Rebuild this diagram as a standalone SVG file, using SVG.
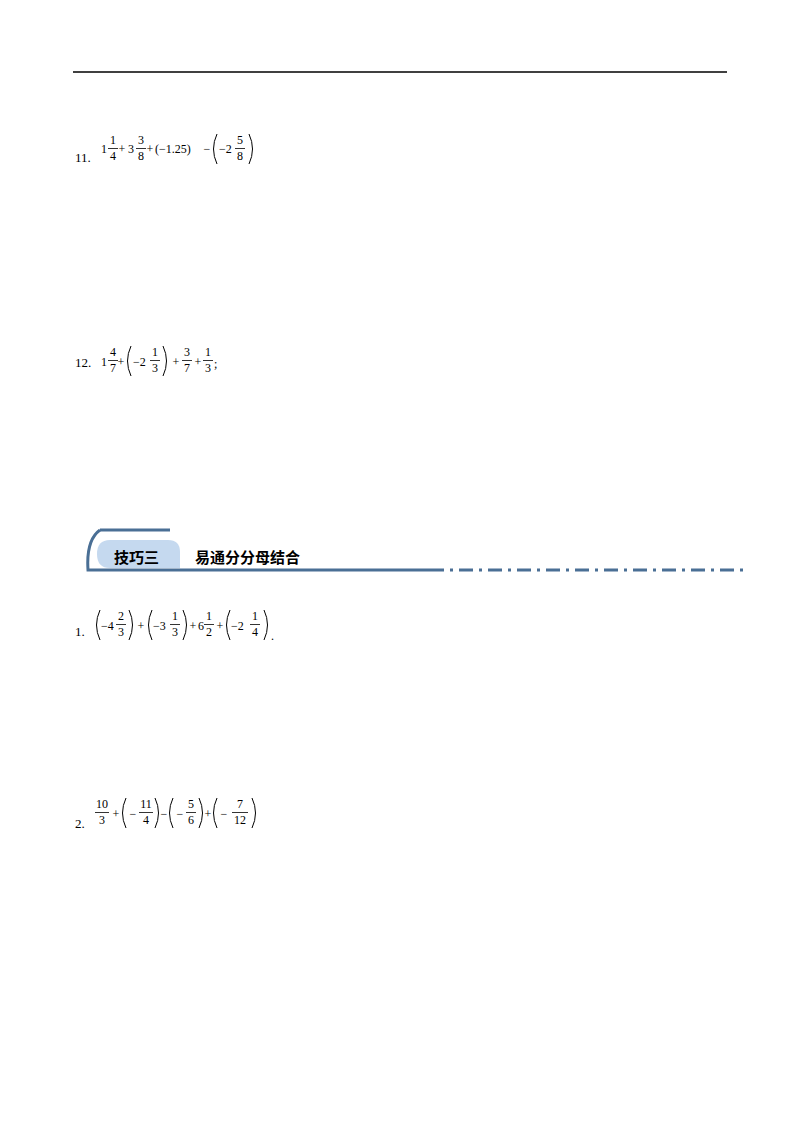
<svg xmlns="http://www.w3.org/2000/svg" width="800" height="1132" viewBox="0 0 800 1132">
<style>
text{font-family:"Liberation Serif","Times New Roman",serif;font-size:12px;fill:#000}
.n{font-size:13px}
.m{text-anchor:middle}
.b{stroke:#000;stroke-width:0.8;fill:none}
.p{stroke:#000;stroke-width:1;fill:none}
.h{font-family:"Noto Sans CJK SC",sans-serif;font-weight:bold;font-size:15px}
</style>
<rect width="800" height="1132" fill="#fff"/>
<line x1="73" y1="72" x2="727" y2="72" stroke="#000" stroke-width="1.3"/>

<g id="q11">
<text class="n" x="75" y="162">11.</text>
<text x="101" y="153">1</text>
<text class="m" x="113" y="144">1</text><line class="b" x1="108" y1="148.5" x2="118" y2="148.5"/><text class="m" x="113" y="160">4</text>
<text class="m" x="122" y="153">+</text>
<text class="m" x="131" y="153">3</text>
<text class="m" x="141" y="144">3</text><line class="b" x1="136" y1="148.5" x2="146" y2="148.5"/><text class="m" x="141" y="160">8</text>
<text class="m" x="150" y="153">+</text>
<text x="155" y="153">(−1.25)</text>
<text class="m" x="207" y="153">−</text>
<path class="p" d="M217 134 Q210 149 217 164"/>
<text x="219" y="153">−2</text>
<text class="m" x="240" y="144">5</text><line class="b" x1="235" y1="148.5" x2="245" y2="148.5"/><text class="m" x="240" y="160">8</text>
<path class="p" d="M249 134 Q256 149 249 164"/>
</g>

<g id="q12">
<text class="n" x="75" y="367">12.</text>
<text x="101" y="366">1</text>
<text class="m" x="113" y="356">4</text><line class="b" x1="108" y1="360.5" x2="118" y2="360.5"/><text class="m" x="113" y="372">7</text>
<text class="m" x="121" y="366">+</text>
<path class="p" d="M131 346 Q124 361 131 376"/>
<text x="133" y="366">−2</text>
<text class="m" x="155" y="356">1</text><line class="b" x1="150" y1="360.5" x2="160" y2="360.5"/><text class="m" x="155" y="372">3</text>
<path class="p" d="M163 346 Q170 361 163 376"/>
<text class="m" x="176" y="366">+</text>
<text class="m" x="187" y="356">3</text><line class="b" x1="182" y1="360.5" x2="192" y2="360.5"/><text class="m" x="187" y="372">7</text>
<text class="m" x="198" y="366">+</text>
<text class="m" x="208" y="356">1</text><line class="b" x1="203" y1="360.5" x2="213" y2="360.5"/><text class="m" x="208" y="372">3</text>
<text x="214" y="368">;</text>
</g>

<g id="header">
<path d="M100 530 Q86 540 88 570 L430 570" fill="none" stroke="#4a6f95" stroke-width="3"/>
<line x1="100" y1="530" x2="170" y2="530" stroke="#4a6f95" stroke-width="3"/>
<line x1="430" y1="570" x2="745" y2="570" stroke="#4a6f95" stroke-width="3" stroke-dasharray="14,6,3,6"/>
<path d="M110 540 L168 540 Q180 540 180 552 L180 568 L110 568 Q97 568 97 554 Q97 540 110 540 Z" fill="#c5d9ef"/>
<text class="h" x="114" y="563">技巧三</text>
<text class="h" x="195" y="563">易通分分母结合</text>
</g>

<g id="q1">
<text class="n" x="75" y="636">1.</text>
<path class="p" d="M100 610 Q93 625 100 640"/>
<text x="101" y="630">−4</text>
<text class="m" x="121" y="620">2</text><line class="b" x1="116" y1="624.5" x2="126" y2="624.5"/><text class="m" x="121" y="636">3</text>
<path class="p" d="M129 610 Q136 625 129 640"/>
<text class="m" x="141" y="630">+</text>
<path class="p" d="M152 610 Q145 625 152 640"/>
<text x="153" y="630">−3</text>
<text class="m" x="175" y="620">1</text><line class="b" x1="170" y1="624.5" x2="180" y2="624.5"/><text class="m" x="175" y="636">3</text>
<path class="p" d="M183 610 Q190 625 183 640"/>
<text class="m" x="193" y="630">+</text>
<text class="m" x="201" y="630">6</text>
<text class="m" x="209" y="620">1</text><line class="b" x1="204" y1="624.5" x2="214" y2="624.5"/><text class="m" x="209" y="636">2</text>
<text class="m" x="220" y="630">+</text>
<path class="p" d="M230 610 Q223 625 230 640"/>
<text x="231" y="630">−2</text>
<text class="m" x="255" y="620">1</text><line class="b" x1="250" y1="624.5" x2="260" y2="624.5"/><text class="m" x="255" y="636">4</text>
<path class="p" d="M264 610 Q271 625 264 640"/>
<text x="271" y="640">.</text>
</g>

<g id="q2">
<text class="n" x="75" y="828">2.</text>
<text class="m" x="102" y="808">10</text><line class="b" x1="95" y1="812.5" x2="109" y2="812.5"/><text class="m" x="102" y="824">3</text>
<text class="m" x="116" y="818">+</text>
<path class="p" d="M126 798 Q119 813 126 828"/>
<text class="m" x="133" y="818">−</text>
<text class="m" x="146" y="808">11</text><line class="b" x1="139" y1="812.5" x2="153" y2="812.5"/><text class="m" x="146" y="824">4</text>
<path class="p" d="M155 798 Q162 813 155 828"/>
<text class="m" x="164" y="818">−</text>
<path class="p" d="M173 798 Q166 813 173 828"/>
<text class="m" x="180" y="818">−</text>
<text class="m" x="191" y="808">5</text><line class="b" x1="186" y1="812.5" x2="196" y2="812.5"/><text class="m" x="191" y="824">6</text>
<path class="p" d="M199 798 Q206 813 199 828"/>
<text class="m" x="208" y="818">+</text>
<path class="p" d="M217 798 Q210 813 217 828"/>
<text class="m" x="224" y="818">−</text>
<text class="m" x="240" y="808">7</text><line class="b" x1="232" y1="812.5" x2="248" y2="812.5"/><text class="m" x="240" y="824">12</text>
<path class="p" d="M252 798 Q259 813 252 828"/>
</g>
</svg>
